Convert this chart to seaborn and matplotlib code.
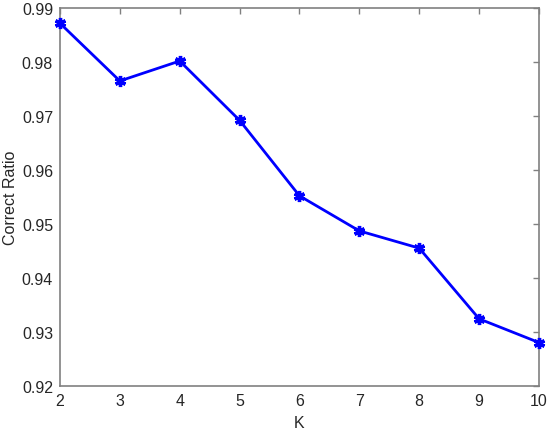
import numpy as np
import pandas as pd
import matplotlib
matplotlib.use("Agg")
import matplotlib.pyplot as plt
import seaborn as sns

# values
k_values = [2, 3, 4, 5, 6, 7, 8, 9, 10]
correct_ratio = [0.9872, 0.9765, 0.9802, 0.9692, 0.9552, 0.9487, 0.9455, 0.9324, 0.9280]
y_ticks = [0.92, 0.93, 0.94, 0.95, 0.96, 0.97, 0.98, 0.99]

df = pd.DataFrame({"K": k_values, "Correct Ratio": correct_ratio})

sns.set_style("white")
plt.rcParams["font.family"] = ["Liberation Sans", "DejaVu Sans"]

fig = plt.figure(figsize=(5.5, 4.35), dpi=100)
ax = fig.add_axes([0.109, 0.111, 0.871, 0.868])

# asterisk marker like matlab's '*'
sns.lineplot(data=df, x="K", y="Correct Ratio", ax=ax, color="#0000ff",
             linewidth=2, marker=(6, 2, 0), markersize=8, markeredgewidth=2.4,
             markeredgecolor="#0000ff", clip_on=False, zorder=5)

ax.set_xlim(2, 10)
ax.set_ylim(0.92, 0.99)
ax.set_xticks(k_values)
ax.set_yticks(y_ticks)
ax.set_yticklabels([f"{v:.2f}" for v in y_ticks])

axis_grey = "#808080"
text_grey = "#262626"
for s in ax.spines.values():
    s.set_visible(True)
    s.set_color(axis_grey)
    s.set_linewidth(1.2)
ax.tick_params(direction="in", length=4, width=1, color=axis_grey,
               top=True, right=True, labelsize=11.5, labelcolor=text_grey, pad=5)
ax.set_xlabel("K", fontsize=11.5, color=text_grey, labelpad=5)
ax.set_ylabel("Correct Ratio", fontsize=11.5, color=text_grey, labelpad=3)

fig.savefig("out.png", dpi=100)
